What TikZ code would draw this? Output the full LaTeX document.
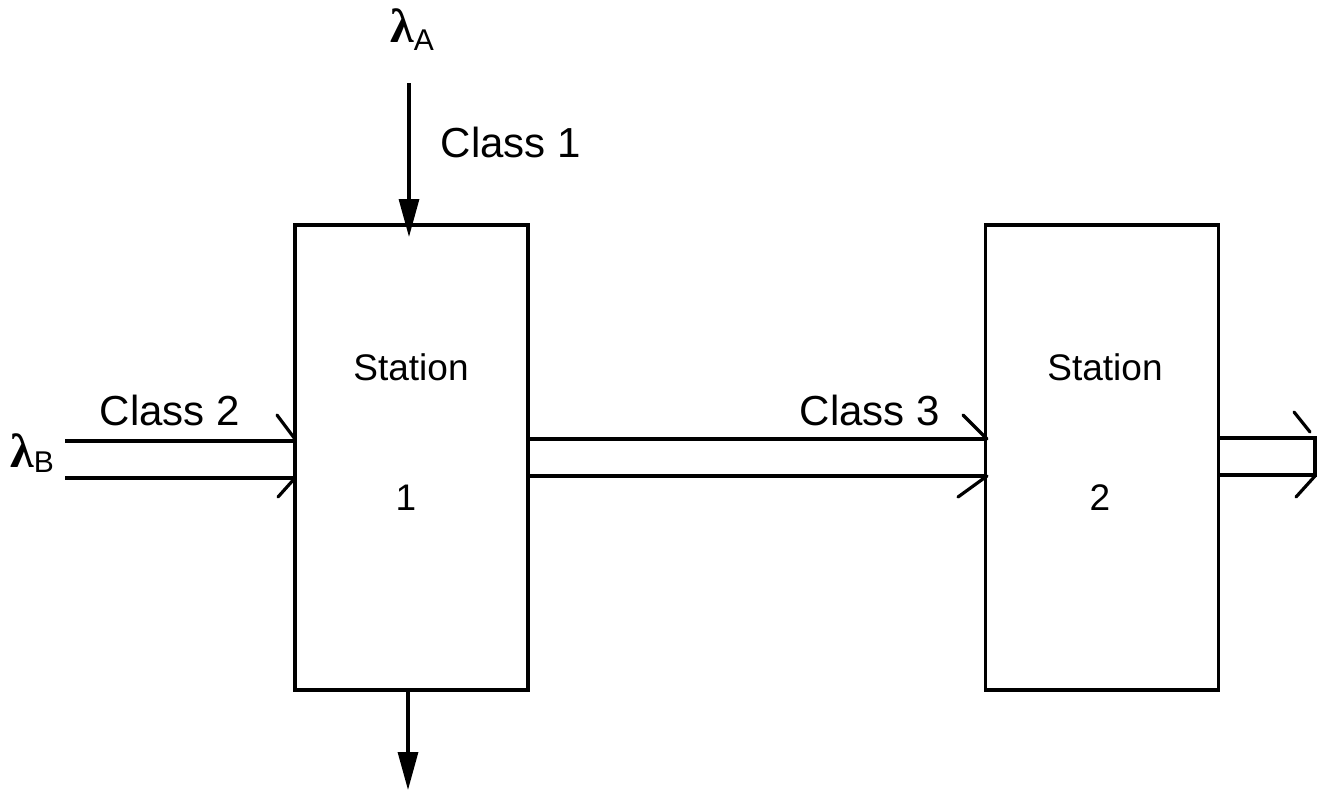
\documentclass[tikz,border=0pt]{standalone}
\usepackage{fontspec}
\setmainfont{Liberation Sans}
\newfontfamily\grk{Liberation Serif}
\usetikzlibrary{arrows.meta}
\newcommand{\subtxt}[1]{{\fontsize{30}{30}\selectfont\rmfamily\mdseries #1}}
\begin{document}
\begin{tikzpicture}[x=1pt,y=-1pt,
  box/.style={draw,line width=3.2pt,minimum width=233pt,minimum height=465pt,inner sep=0pt},
  flow/.style={line width=3.2pt},
  barb/.style={line width=3.2pt,line cap=round},
  tri/.style={line width=3.2pt,-{Triangle[length=38pt,width=20pt]}},
  lbl/.style={font=\fontsize{37}{40}\selectfont,inner sep=0pt},
  cls/.style={font=\fontsize{42}{44}\selectfont,inner sep=0pt},
  lam/.style={font=\grk\bfseries\fontsize{48}{50}\selectfont,inner sep=0pt,anchor=base west}]
\useasboundingbox (0,0) rectangle (1319,790);
\node[box] (s1) at (411.5,457.5) {};
\node[box] (s2) at (1102,457.5) {};
\node[lbl] (st1) at (411,367) {Station};
\node[lbl] (n1) at (406,498) {1};
\node[lbl] (st2) at (1105,367) {Station};
\node[lbl] (n2) at (1100,498) {2};
\node[lam] (la) at (390,42) {λ\raisebox{-8pt}{\subtxt{A}}};
\node[lam] (lb) at (10,467) {λ\raisebox{-5pt}{\subtxt{B}}};
\node[cls] (c1) at (511,142) {Class 1};
\node[cls] (c2) at (170,410) {Class 2};
\node[cls] (c3) at (870,410) {Class 3};
% class 1 input
\coordinate (a0) at (409,83);
\coordinate (a1) at (409,237);
\draw[tri] (a0) -- (a1);
% output bottom
\coordinate (b0) at (408,690);
\coordinate (b1) at (408,790);
\draw[tri] (b0) -- (b1);
% class 2 input
\coordinate (l1) at (65,441);
\coordinate (l2) at (65,478);
\draw[flow] (l1) -- (l1 -| s1.west);
\draw[flow] (l2) -- (l2 -| s1.west);
\draw[barb] (277,415) -- (295,439);
\draw[barb] (295,478) -- (278,497);
% class 3 link
\coordinate (m1) at (528,439);
\coordinate (m2) at (528,476);
\draw[flow] (m1) -- (m1 -| s2.west);
\draw[flow] (m2) -- (m2 -| s2.west);
\draw[barb] (963,415) -- (987,439);
\draw[barb] (987,476) -- (958,497);
% output right
\coordinate (r1) at (1315,438);
\coordinate (r2) at (1315,475);
\draw[flow] (r1 -| s2.east) -- (r1) -- (r2) -- (r2 -| s2.east);
\draw[barb] (1294,412) -- (1310,432);
\draw[barb] (1315,476) -- (1296,497);
\end{tikzpicture}
\end{document}
